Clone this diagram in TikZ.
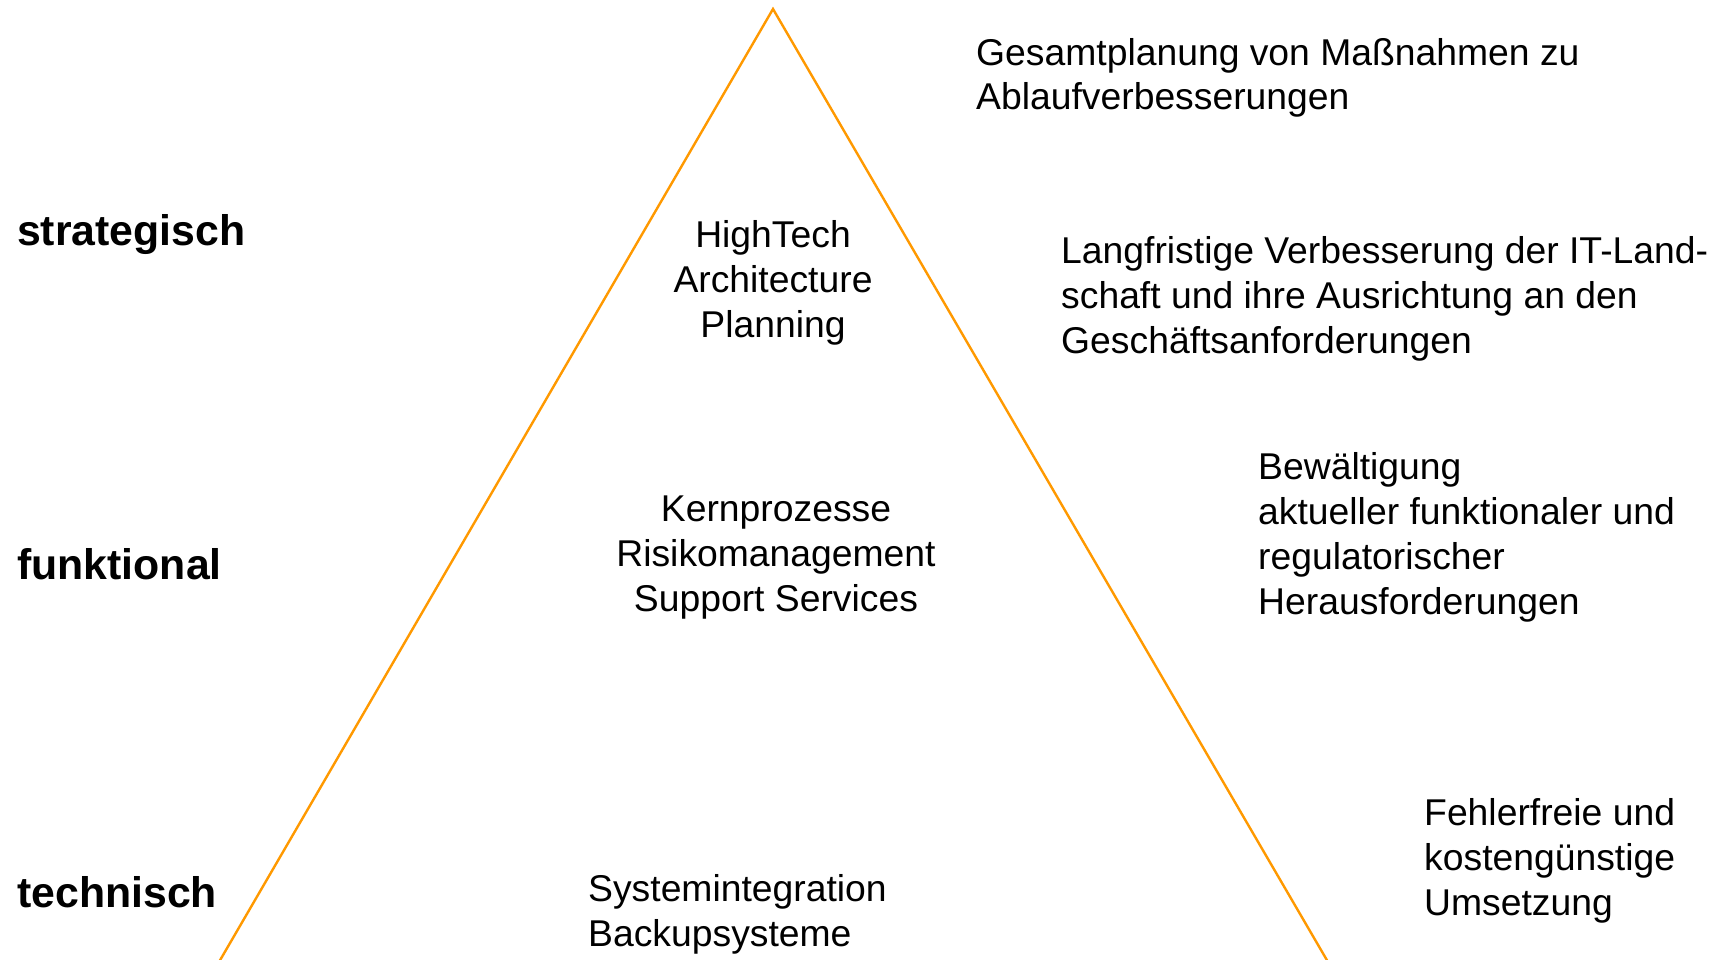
\documentclass[tikz,border=0pt]{standalone}
\usepackage{fontspec}
\setmainfont{Liberation Sans}
\usepackage{tikz}
\usetikzlibrary{positioning}
\definecolor{pyrorange}{RGB}{255,153,0}

\begin{document}
\begin{tikzpicture}[x=1pt,y=-1pt,
    level/.style={anchor=base west,inner sep=0pt,font=\bfseries\fontsize{42.8}{51}\selectfont},
    txt/.style={inner sep=0pt,font=\fontsize{37.3}{44.7}\selectfont}]
      \useasboundingbox[fill=white] (0,0) rectangle (1718,960);
      % pyramid
      \coordinate (top) at (773,9);
      \coordinate (bl) at (219,962);
      \coordinate (br) at (1328,962);
      \draw[pyrorange,line width=2.4pt] (bl) -- (top) -- (br);
      % levels
      \node[level] (strat) at (17,245) {strategisch};
      \node[level] (funk) at (17,579) {funktional};
      \node[level] (tech) at (17,907) {technisch};
      % inside the pyramid (base = last line)
      \node[txt,align=center,anchor=base] (ht) at (773,337) {HighTech\\Architecture\\Planning};
      \node[txt,align=center,anchor=base] (kern) at (776,611) {Kernprozesse\\Risikomanagement\\Support Services};
      \node[txt,align=left,anchor=base west] (sys) at (588,946) {Systemintegration\\Backupsysteme};
      % goals
      \node[txt,align=left,anchor=base west] (gesamt) at (976,110) {Gesamtplanung von Maßnahmen zu\\Ablaufverbesserungen};
      \node[txt,align=left,anchor=base west] (lang) at (1061,353) {Langfristige Verbesserung der IT-Land-\\schaft und ihre Ausrichtung an den\\Geschäftsanforderungen};
      \node[txt,align=left,anchor=base west] (bew) at (1258,614) {Bewältigung\\aktueller funktionaler und\\regulatorischer\\Herausforderungen};
      \node[txt,align=left,anchor=base west] (fehler) at (1424,915) {Fehlerfreie und\\kostengünstige\\Umsetzung};
\end{tikzpicture}
\end{document}
